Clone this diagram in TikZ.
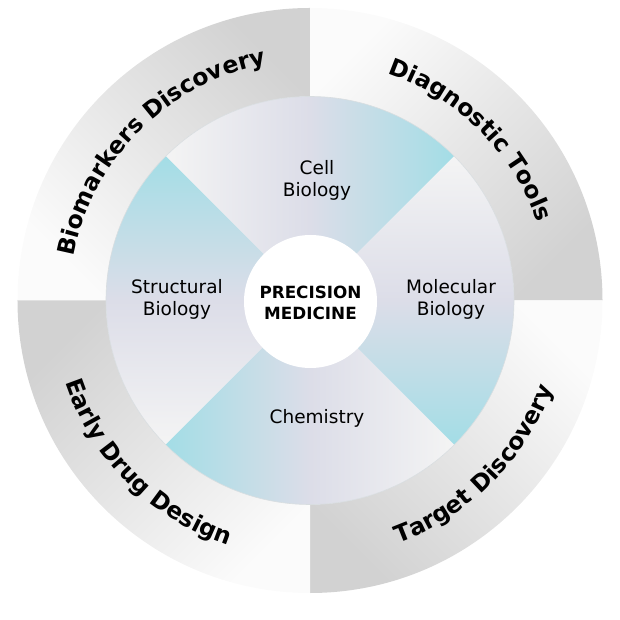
\documentclass[tikz,border=0pt]{standalone}
\usepackage{fontspec}
\setmainfont{DejaVu Sans}
\usetikzlibrary{decorations.text}
\definecolor{cyanA}{HTML}{A3DDE6}
\definecolor{lavA}{HTML}{DCDDE8}
\definecolor{whiteA}{HTML}{F4F4F4}
\definecolor{grayA}{HTML}{D2D2D2}
\definecolor{grayM}{HTML}{E6E6E6}
\definecolor{whiteB}{HTML}{FBFBFB}
\definecolor{rimA}{HTML}{D8DDE0}
\newcommand\oflabel{\bfseries\fontsize{23.5}{23.5}\selectfont}
\begin{document}
\begin{tikzpicture}[
  outerq/.style={top color=grayA, bottom color=whiteB, middle color=grayM, shading angle=#1},
  innerq/.style={top color=cyanA, bottom color=whiteA, middle color=lavA, shading angle=#1},
  innerlabel/.style={font=\fontsize{18.5}{22.5}\selectfont, align=center, text=black, inner sep=0pt},
  hublabel/.style={font=\bfseries\fontsize{16.8}{20.5}\selectfont, align=center, text=black, inner sep=0pt},
  arctext/.style={decorate, decoration={text along path, text align=center, text={|\oflabel|#1}}}
]
\useasboundingbox (-310pt,-319.5pt) rectangle (310pt,300.5pt);
% outer quadrants
\path[outerq=-45] (90:292.5pt) arc[start angle=90, end angle=180, radius=292.5pt] -- (180:204pt) arc[start angle=180, end angle=90, radius=204pt] -- cycle;
\path[outerq=-135] (0:292.5pt) arc[start angle=0, end angle=90, radius=292.5pt] -- (90:204pt) arc[start angle=90, end angle=0, radius=204pt] -- cycle;
\path[outerq=135] (270:292.5pt) arc[start angle=270, end angle=360, radius=292.5pt] -- (0:204pt) arc[start angle=360, end angle=270, radius=204pt] -- cycle;
\path[outerq=45] (180:292.5pt) arc[start angle=180, end angle=270, radius=292.5pt] -- (270:204pt) arc[start angle=270, end angle=180, radius=204pt] -- cycle;
% inner sectors
\path[innerq=-90] (0,0) -- (45:204pt) arc[start angle=45, end angle=135, radius=204pt] -- cycle;
\path[innerq=0] (0,0) -- (135:204pt) arc[start angle=135, end angle=225, radius=204pt] -- cycle;
\path[innerq=90] (0,0) -- (225:204pt) arc[start angle=225, end angle=315, radius=204pt] -- cycle;
\path[innerq=180] (0,0) -- (-45:204pt) arc[start angle=-45, end angle=45, radius=204pt] -- cycle;
\draw[rimA, line width=0.6pt] (0,0) circle[radius=204pt];
% hub
\node[circle, fill=white, minimum size=133pt, inner sep=0pt] (hub) at (0.5pt,-1pt) {};
\node[hublabel] (pm) at (0.5pt,-2.5pt) {PRECISION\\MEDICINE};
% inner labels
\node[innerlabel] (cell) at (7pt,120pt) {Cell\\Biology};
\node[innerlabel] (struct) at (-133pt,1pt) {Structural\\Biology};
\node[innerlabel] (mol) at (141pt,1pt) {Molecular\\Biology};
\node[innerlabel] (chem) at (7pt,-118pt) {Chemistry};
% outer labels
\path[arctext={Biomarkers Discovery}] (180:240pt) arc[start angle=180, end angle=90, radius=240pt];
\path[arctext={Diagnostic Tools}] (90:240pt) arc[start angle=90, end angle=0, radius=240pt];
\path[arctext={Early Drug Design}] (180:258pt) arc[start angle=180, end angle=270, radius=258pt];
\path[arctext={Target Discovery}] (270:258pt) arc[start angle=270, end angle=360, radius=258pt];
\end{tikzpicture}
\end{document}
